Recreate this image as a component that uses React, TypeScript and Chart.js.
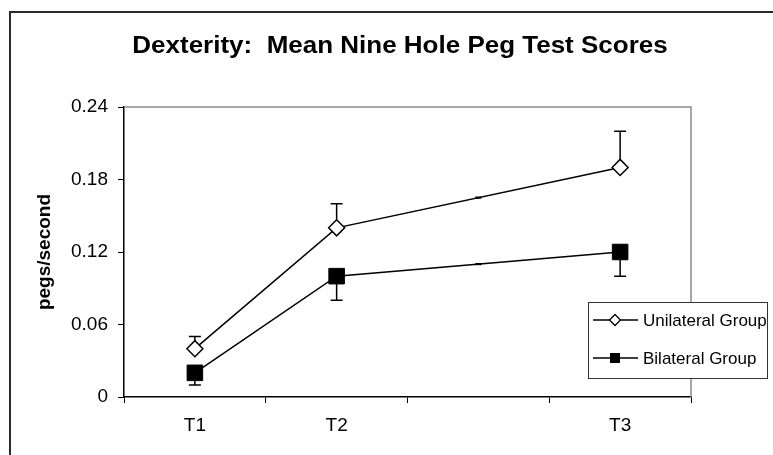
import { useEffect, useRef } from 'react';
import { Chart, registerables } from 'chart.js';

Chart.register(...registerables);

// Time points (the third slot is an unlabelled gap between T2 and T3)
const categories = ['T1', 'T2', '', 'T3'];
const unilateralMeans = [0.04, 0.14, null, 0.19];
const unilateralErrorTop = [0.05, 0.16, null, 0.22];
const bilateralMeans = [0.02, 0.1, null, 0.12];
const bilateralErrorBottom = [0.01, 0.08, null, 0.1];
const yTickValues = [0, 0.06, 0.12, 0.18, 0.24];
const yTickLabels = ['0', '0.06', '0.12', '0.18', '0.24'];
const seriesNames = ['Unilateral Group', 'Bilateral Group'];
const chartTitle = 'Dexterity:  Mean Nine Hole Peg Test Scores';
const yAxisTitle = 'pegs/second';

const FONT = '"Liberation Sans", Arial, Helvetica, sans-serif';

const errorEnds = [unilateralErrorTop, bilateralErrorBottom];

const framePlugin = {
  id: 'outerFrame',
  beforeDraw(chart: any) {
    const { ctx, width, height } = chart;
    ctx.save();
    ctx.fillStyle = '#ffffff';
    ctx.fillRect(0, 0, width, height);
    ctx.strokeStyle = '#2a2a2a';
    ctx.lineWidth = 2;
    ctx.beginPath();
    ctx.moveTo(10, height);
    ctx.lineTo(10, 12);
    ctx.lineTo(width, 12);
    ctx.stroke();
    ctx.restore();
  },
};

const plotBorderPlugin = {
  id: 'plotBorder',
  beforeDatasetsDraw(chart: any) {
    const { ctx, chartArea } = chart;
    ctx.save();
    ctx.strokeStyle = '#8c8c8c';
    ctx.lineWidth = 1.5;
    ctx.beginPath();
    ctx.moveTo(chartArea.left, chartArea.top);
    ctx.lineTo(chartArea.right, chartArea.top);
    ctx.lineTo(chartArea.right, chartArea.bottom);
    ctx.stroke();
    ctx.restore();
  },
};

const errorBarPlugin = {
  id: 'errorBars',
  beforeDatasetsDraw(chart: any) {
    const { ctx } = chart;
    const yScale = chart.scales.y;
    ctx.save();
    ctx.strokeStyle = '#000';
    ctx.lineWidth = 1.5;
    chart.data.datasets.forEach((ds: any, i: number) => {
      const meta = chart.getDatasetMeta(i);
      ds.data.forEach((v: number | null, j: number) => {
        const end = errorEnds[i][j];
        if (v == null || end == null) return;
        const x = meta.data[j].x;
        const y0 = yScale.getPixelForValue(v);
        const y1 = yScale.getPixelForValue(end);
        ctx.beginPath();
        ctx.moveTo(x, y0);
        ctx.lineTo(x, y1);
        ctx.moveTo(x - 6, y1);
        ctx.lineTo(x + 6, y1);
        ctx.stroke();
      });
    });
    ctx.restore();
  },
};

// Small dash where each line crosses the unlabelled slot
const gapDashPlugin = {
  id: 'gapDash',
  afterDatasetsDraw(chart: any) {
    const { ctx } = chart;
    const xScale = chart.scales.x;
    ctx.save();
    ctx.strokeStyle = '#000';
    ctx.lineWidth = 2.2;
    chart.data.datasets.forEach((ds: any, i: number) => {
      const meta = chart.getDatasetMeta(i);
      ds.data.forEach((v: number | null, j: number) => {
        if (v != null || j === 0 || j === ds.data.length - 1) return;
        if (ds.data[j - 1] == null || ds.data[j + 1] == null) return;
        const a = meta.data[j - 1];
        const b = meta.data[j + 1];
        const x = xScale.getPixelForValue(j);
        const t = (x - a.x) / (b.x - a.x);
        const y = a.y + (b.y - a.y) * t;
        ctx.beginPath();
        ctx.moveTo(x - 3, y);
        ctx.lineTo(x + 3, y);
        ctx.stroke();
      });
    });
    ctx.restore();
  },
};

const titleLegendPlugin = {
  id: 'titleLegend',
  afterDraw(chart: any) {
    const { ctx } = chart;
    ctx.save();
    // title, slightly widened
    ctx.fillStyle = '#000';
    ctx.font = `bold 23px ${FONT}`;
    ctx.textAlign = 'center';
    ctx.textBaseline = 'alphabetic';
    ctx.translate(400, 53);
    ctx.scale(1.13, 1);
    ctx.fillText(chartTitle, 0, 0);
    ctx.restore();

    ctx.save();
    // legend box
    const bx = 588;
    const by = 302;
    const bw = 179;
    const bh = 76;
    ctx.fillStyle = '#fff';
    ctx.fillRect(bx, by, bw, bh);
    ctx.strokeStyle = '#333';
    ctx.lineWidth = 1;
    ctx.strokeRect(bx + 0.5, by + 0.5, bw, bh);

    const rows = [320, 358];
    chart.data.datasets.forEach((ds: any, i: number) => {
      const y = rows[i];
      ctx.strokeStyle = '#000';
      ctx.lineWidth = 1.5;
      ctx.beginPath();
      ctx.moveTo(593, y);
      ctx.lineTo(638, y);
      ctx.stroke();
      const cx = 615;
      if (ds.pointStyle === 'rectRot') {
        ctx.fillStyle = '#fff';
        ctx.beginPath();
        ctx.moveTo(cx, y - 5.5);
        ctx.lineTo(cx + 5.5, y);
        ctx.lineTo(cx, y + 5.5);
        ctx.lineTo(cx - 5.5, y);
        ctx.closePath();
        ctx.fill();
        ctx.lineWidth = 1.3;
        ctx.stroke();
      } else {
        ctx.fillStyle = '#000';
        ctx.fillRect(cx - 5, y - 5, 10, 10);
      }
      ctx.fillStyle = '#000';
      ctx.font = `17px ${FONT}`;
      ctx.textAlign = 'left';
      ctx.textBaseline = 'middle';
      ctx.fillText(ds.label, 643, y + 1);
    });
    ctx.restore();
  },
};

export default function App() {
  const canvasRef = useRef<HTMLCanvasElement | null>(null);

  useEffect(() => {
    const canvas = canvasRef.current;
    if (!canvas) return;
    const chart = new Chart(canvas, {
      type: 'line',
      data: {
        labels: categories,
        datasets: [
          {
            label: seriesNames[0],
            data: unilateralMeans,
            borderColor: '#000',
            borderWidth: 1.5,
            pointStyle: 'rectRot',
            pointRadius: 8,
            pointBackgroundColor: '#fff',
            pointBorderColor: '#000',
            pointBorderWidth: 1.5,
            spanGaps: true,
            tension: 0,
          },
          {
            label: seriesNames[1],
            data: bilateralMeans,
            borderColor: '#000',
            borderWidth: 1.5,
            pointStyle: 'rect',
            pointRadius: 11,
            pointBackgroundColor: '#000',
            pointBorderColor: '#000',
            pointBorderWidth: 1,
            spanGaps: true,
            tension: 0,
          },
        ],
      },
      options: {
        animation: false,
        responsive: false,
        maintainAspectRatio: false,
        events: [],
        layout: { padding: { left: 10, right: 82, top: 107, bottom: 0 } },
        plugins: {
          legend: { display: false },
          title: { display: false },
          tooltip: { enabled: false },
        },
        scales: {
          x: {
            type: 'category',
            offset: true,
            grid: {
              offset: true,
              drawOnChartArea: false,
              color: '#000',
              lineWidth: 1,
              tickLength: 6,
            },
            border: { color: '#000', width: 1.5 },
            ticks: {
              color: '#000',
              font: { family: FONT, size: 19 },
              padding: 11,
              maxRotation: 0,
              autoSkip: false,
            },
            afterFit: (s: any) => {
              s.height = 58;
            },
          },
          y: {
            min: 0,
            max: 0.24,
            afterBuildTicks: (s: any) => {
              s.ticks = yTickValues.map((v) => ({ value: v }));
            },
            grid: {
              drawOnChartArea: false,
              color: '#000',
              lineWidth: 1,
              tickLength: 6,
            },
            border: { color: '#000', width: 1.5 },
            ticks: {
              color: '#000',
              font: { family: FONT, size: 19 },
              padding: 10,
              callback: (_v: any, i: number) => yTickLabels[i],
            },
            title: {
              display: true,
              text: yAxisTitle,
              color: '#000',
              font: { family: FONT, size: 19, weight: 'bold' },
              padding: { top: 23.5, bottom: 0 },
            },
            afterFit: (s: any) => {
              s.width = 114;
            },
          },
        },
      },
      plugins: [framePlugin, plotBorderPlugin, errorBarPlugin, gapDashPlugin, titleLegendPlugin],
    } as any);
    return () => chart.destroy();
  }, []);

  return (
    <div style={{ position: 'fixed', left: 0, top: 0, width: 773, height: 455, background: '#fff' }}>
      <canvas ref={canvasRef} width={773} height={455} style={{ display: 'block' }} />
    </div>
  );
}
